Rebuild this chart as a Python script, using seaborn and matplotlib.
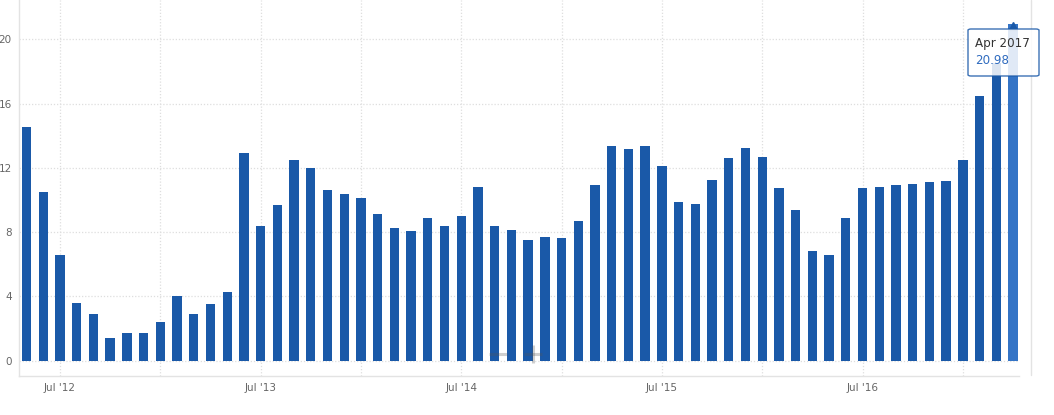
import matplotlib
matplotlib.use('Agg')
import matplotlib.pyplot as plt
from matplotlib.patches import FancyBboxPatch
from matplotlib.lines import Line2D
import pandas as pd
import seaborn as sns

# ------------------------------------------------------------
# Data (monthly, May 2012 - Apr 2017)
# ------------------------------------------------------------
START_MONTH = '2012-05'
VALUES = [
    14.54, 10.50, 6.58, 3.59, 2.90, 1.41, 1.72, 1.72, 2.41, 4.03,
    2.90, 3.53, 4.27, 12.92, 8.38, 9.69, 12.49, 11.99, 10.62, 10.37,
    10.12, 9.13, 8.26, 8.07, 8.88, 8.38, 9.00, 10.81, 8.38, 8.13,
    7.51, 7.70, 7.64, 8.69, 10.93, 13.36, 13.17, 13.36, 12.11, 9.87,
    9.75, 11.24, 12.61, 13.23, 12.67, 10.75, 9.38, 6.83, 6.58, 8.88,
    10.75, 10.81, 10.93, 11.00, 11.12, 11.18, 12.49, 16.47, 18.50, 20.98,
]
Y_TICKS = [0, 4, 8, 12, 16, 20]
TOOLTIP_TITLE = 'Apr 2017'
TOOLTIP_VALUE = '20.98'

BAR_COLOR = '#1a59a8'
HOVER_COLOR = '#3474c6'
GRID_COLOR = '#dedede'
AXIS_COLOR = '#e3e3e3'
TEXT_COLOR = '#666666'

months = pd.date_range(START_MONTH, periods=len(VALUES), freq='MS')
df = pd.DataFrame({'month': months.strftime('%Y-%m'), 'value': VALUES})

# ------------------------------------------------------------
# Plot
# ------------------------------------------------------------
sns.set_theme(style='white')
plt.rcParams['font.family'] = ['DejaVu Sans']

fig = plt.figure(figsize=(10.54, 4.15), dpi=100)
ax = fig.add_axes([18.7 / 1054, 1 - 376 / 415, (1019 - 18.7) / 1054, 376 / 415])

sns.barplot(data=df, x='month', y='value', color=BAR_COLOR, width=0.56,
            saturation=1, linewidth=0, ax=ax, zorder=3)
ax.patches[-1].set_facecolor(HOVER_COLOR)

ax.set_xlim(-0.47, len(VALUES) - 0.64)
ax.set_ylim(-0.95, 22.45)

# vertical grid every 6 months (Jan / Jul), labels only on Jul
grid_pos = [i for i, m in enumerate(months) if m.month in (1, 7)]
jul_labels = [m.strftime("Jul '%y") if m.month == 7 else '' for m in months[grid_pos]]
ax.set_xticks(grid_pos)
ax.set_xticklabels(jul_labels)
ax.set_yticks(Y_TICKS)
ax.set_yticklabels([str(t) for t in Y_TICKS])

ax.grid(True, color=GRID_COLOR, linestyle=(0, (1, 1.5)), linewidth=0.9, zorder=0)
ax.tick_params(axis='both', length=0, labelsize=7.5, labelcolor=TEXT_COLOR)
ax.tick_params(axis='x', pad=5)
ax.tick_params(axis='y', pad=5)
ax.set_xlabel('')
ax.set_ylabel('')

for side in ['top', 'right']:
    ax.spines[side].set_visible(False)
for side in ['left', 'bottom']:
    ax.spines[side].set_color(AXIS_COLOR)
    ax.spines[side].set_linewidth(1)

# hover marker on top of last bar
ax.plot(len(VALUES) - 1, VALUES[-1] - 0.15, marker='^', markersize=6,
        color=BAR_COLOR, zorder=6, clip_on=False)

# right-hand border line
fig.add_artist(Line2D([1030.5 / 1054] * 2, [1 - 375 / 415, 1.0],
                      color=AXIS_COLOR, linewidth=1))

# faint zoom controls (minus / plus)
def px(x, y):
    return x / 1054, 1 - y / 415

for seg in [((489, 354), (507, 354)), ((524, 354), (542, 354)), ((533, 345), (533, 363))]:
    (x0, y0), (x1, y1) = px(*seg[0]), px(*seg[1])
    fig.add_artist(Line2D([x0, x1], [y0, y1], color='#555555', alpha=0.28,
                          linewidth=2.2, solid_capstyle='butt', zorder=7))

# tooltip
tip = FancyBboxPatch(px(968, 76), 71 / 1054, 47 / 415,
                     boxstyle='round,pad=0,rounding_size=0.003',
                     transform=fig.transFigure, facecolor='white', alpha=0.85,
                     edgecolor=BAR_COLOR, linewidth=1, zorder=8)
fig.add_artist(tip)
fig.text(*px(975, 44), TOOLTIP_TITLE, fontsize=8.6, color='#333333',
         ha='left', va='center', zorder=9)
fig.text(*px(975, 60), TOOLTIP_VALUE, fontsize=8.6, color='#2f6bbf',
         ha='left', va='center', zorder=9)

fig.savefig('out.png', dpi=100)
plt.close(fig)
